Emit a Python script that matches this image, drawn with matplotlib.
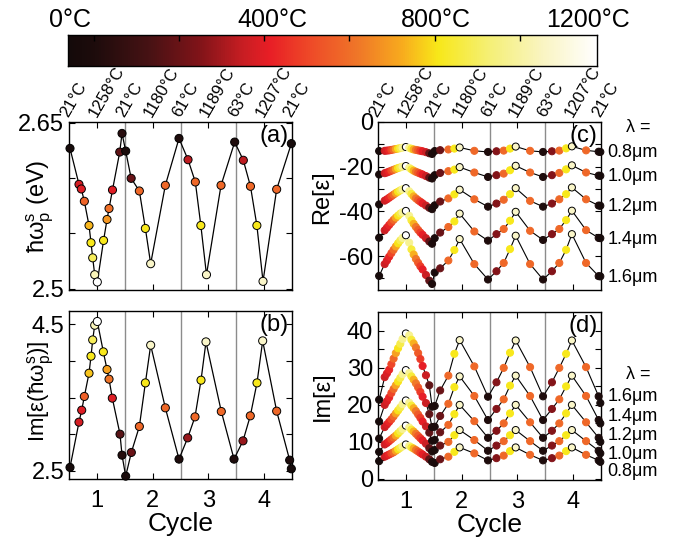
import numpy as np
import matplotlib
matplotlib.use('Agg')
import matplotlib.pyplot as plt
from matplotlib.colors import LinearSegmentedColormap, Normalize
from matplotlib.transforms import blended_transform_factory, offset_copy

plt.rcParams['font.family'] = ['Liberation Sans', 'DejaVu Sans']
plt.rcParams['mathtext.fontset'] = 'custom'
plt.rcParams['mathtext.rm'] = 'Liberation Sans'
plt.rcParams['mathtext.it'] = 'Liberation Sans'
plt.rcParams['mathtext.bf'] = 'Liberation Sans:bold'
plt.rcParams['axes.unicode_minus'] = False

# ---------------- data ----------------
top_label_x = [0.5, 1.0, 1.5, 2.0, 2.5, 3.0, 3.5, 4.0, 4.5]
top_labels = ['21°C', '1258°C', '21°C', '1180°C', '61°C', '1189°C', '63°C', '1207°C', '21°C']
cycle_ticks = [1, 2, 3, 4]
cycle_bounds = [1.5, 2.5, 3.5]

cbar_label_T = [5, 463, 834, 1180]
cbar_labels = ['0°C', '400°C', '800°C', '1200°C']
cbar_ticks = [58, 251, 444, 638, 832, 1026]

# colormap anchors (fraction, colour)
cmap_frac = [0.0, 0.05, 0.15, 0.25, 0.33, 0.38, 0.45, 0.55, 0.63, 0.70, 0.80, 0.90, 1.0]
cmap_cols = ['#140a0a', '#1e0c0c', '#461214', '#821419', '#c81e23', '#e81e26',
             '#ee4628', '#f07828', '#f8aa1e', '#f8e819', '#f5f078', '#faf5c3', '#ffffff']

# panel (a) : plasmon energy
x_a = [0.518, 0.679, 0.721, 0.775, 0.859, 0.895, 0.925, 0.961, 1.008, 1.120, 1.182, 1.218,
       1.280, 1.410, 1.451, 1.517, 1.615, 1.762, 1.870, 1.965, 2.228, 2.473, 2.635, 2.766,
       2.865, 2.966, 3.227, 3.472, 3.627, 3.755, 3.870, 3.980, 4.225, 4.488]
T_a = [21, 420, 440, 610, 770, 840, 920, 1060, 1258, 840, 720, 640, 440, 230, 90, 40,
       250, 620, 840, 1090, 620, 61, 380, 620, 840, 1090, 620, 63, 380, 620, 840, 1090, 620, 21]
E_a = [2.6267, 2.5943, 2.5901, 2.5790, 2.5572, 2.5416, 2.5280, 2.5128, 2.5062, 2.5437,
       2.5626, 2.5725, 2.5892, 2.6234, 2.6402, 2.6243, 2.5997, 2.5883, 2.5545, 2.5227,
       2.5934, 2.6357, 2.6165, 2.5964, 2.5572, 2.5128, 2.5934, 2.6324, 2.6160, 2.5925,
       2.5572, 2.5068, 2.5898, 2.6310]

# panel (b) : Im[eps] at plasmon energy
x_b = [0.518, 0.679, 0.728, 0.775, 0.859, 0.895, 0.925, 0.961, 1.008, 1.116, 1.182, 1.218,
       1.277, 1.415, 1.451, 1.517, 1.618, 1.762, 1.870, 1.965, 2.228, 2.473, 2.629, 2.760,
       2.868, 2.957, 3.232, 3.460, 3.621, 3.752, 3.872, 3.974, 4.225, 4.458, 4.488]
T_b = [21, 420, 440, 600, 790, 840, 920, 1060, 1258, 840, 740, 650, 440, 220, 80, 30,
       250, 620, 840, 1090, 620, 61, 330, 620, 840, 1090, 620, 63, 330, 620, 840, 1090, 620, 60, 21]
I_b = [2.548, 3.165, 3.328, 3.515, 3.832, 4.064, 4.286, 4.486, 4.537, 4.123, 3.883, 3.751,
       3.492, 3.001, 2.715, 2.429, 2.752, 3.106, 3.700, 4.214, 3.360, 2.661, 2.951, 3.237,
       3.737, 4.259, 3.310, 2.661, 2.910, 3.251, 3.700, 4.273, 3.315, 2.647, 2.529]

# panels (c),(d) : first cycle (dense sampling) + cycles 2-4
x_cd = [0.52, 0.62, 0.66, 0.70, 0.74, 0.78, 0.82, 0.86, 0.90, 0.94, 1.00, 1.06, 1.10, 1.14,
        1.18, 1.22, 1.26, 1.30, 1.36, 1.42, 1.47,
        1.517, 1.615, 1.762, 1.870, 1.965, 2.228, 2.473, 2.625, 2.755, 2.868, 2.970, 3.228,
        3.460, 3.620, 3.752, 3.874, 3.978, 4.232, 4.458, 4.488]
T_cd = [21, 400, 430, 470, 540, 620, 740, 830, 900, 1000, 1258, 1000, 880, 760, 660, 590,
        520, 450, 400, 230, 60,
        40, 250, 620, 840, 1090, 620, 61, 300, 620, 840, 1090, 620, 63, 300, 620, 840, 1090,
        620, 60, 21]
wavelengths = ['0.8μm', '1.0μm', '1.2μm', '1.4μm', '1.6μm']

re_08 = [-13.0, -12.9, -12.8, -12.7, -12.5, -12.3, -12.1, -11.9, -11.7, -11.5, -11.2, -11.6,
         -12.0, -12.3, -12.5, -12.7, -12.9, -13.1, -13.5, -14.0, -14.3,
         -13.0, -12.6, -12.3, -11.9, -11.4, -12.9, -13.4, -13.1, -12.8, -11.9, -11.0, -12.9,
         -13.4, -13.1, -12.8, -11.8, -10.9, -12.7, -13.3, -13.4]
re_10 = [-23.5, -22.9, -22.6, -22.2, -21.8, -21.4, -21.0, -20.6, -20.3, -20.0, -19.7, -20.5,
         -21.2, -21.8, -22.3, -22.7, -23.1, -23.5, -24.2, -24.9, -25.3,
         -23.8, -22.8, -22.0, -21.3, -20.2, -22.6, -24.6, -23.8, -23.1, -21.6, -19.6, -22.6,
         -24.6, -23.8, -22.8, -21.2, -19.4, -22.6, -24.0, -24.1]
re_12 = [-36.9, -35.2, -34.6, -33.9, -33.2, -32.5, -31.8, -31.2, -30.6, -30.1, -29.6, -31.0,
         -32.2, -33.3, -34.2, -35.0, -35.7, -36.4, -37.4, -38.4, -39.0,
         -37.3, -35.6, -34.2, -32.4, -30.3, -34.6, -37.9, -36.5, -34.8, -32.3, -29.6, -35.3,
         -37.9, -36.5, -34.6, -32.3, -29.3, -34.6, -37.4, -37.5]
re_14 = [-51.8, -48.5, -47.3, -46.1, -44.9, -43.8, -42.8, -41.9, -41.0, -40.4, -39.8, -42.0,
         -44.0, -45.6, -47.0, -48.3, -49.5, -50.5, -52.0, -53.5, -54.5,
         -52.0, -49.5, -47.0, -44.5, -41.0, -49.0, -53.1, -50.2, -47.9, -44.2, -40.2, -48.7,
         -52.8, -50.2, -47.9, -43.9, -39.7, -48.4, -51.9, -52.0]
re_16 = [-68.9, -63.6, -62.0, -60.3, -58.7, -57.2, -55.7, -54.3, -53.0, -51.9, -50.7, -54.0,
         -57.0, -59.3, -61.3, -63.0, -64.6, -66.0, -68.5, -71.0, -72.5,
         -67.4, -65.5, -62.0, -57.3, -52.4, -63.6, -70.5, -66.8, -63.1, -56.9, -50.9, -63.6,
         -70.5, -66.8, -63.1, -57.2, -50.2, -63.1, -69.0, -69.1]

im_08 = [4.8, 6.0, 6.3, 6.6, 6.9, 7.2, 7.6, 8.0, 8.4, 8.8, 9.3, 8.9, 8.5, 8.2, 7.8, 7.4,
         7.0, 6.6, 6.0, 5.3, 4.6,
         4.3, 5.3, 6.0, 7.3, 8.5, 6.9, 5.0, 5.6, 6.3, 7.5, 8.5, 6.5, 5.0, 5.6, 6.3, 7.5, 8.5,
         6.5, 5.0, 4.6]
im_10 = [7.3, 9.3, 9.7, 10.2, 10.7, 11.2, 11.7, 12.3, 12.9, 13.5, 14.4, 13.9, 13.3, 12.8,
         12.2, 11.6, 11.0, 10.4, 9.5, 8.3, 7.4,
         7.8, 9.0, 10.0, 11.8, 13.2, 10.5, 7.6, 9.0, 10.2, 11.8, 13.2, 10.2, 7.6, 9.0, 10.2,
         11.8, 13.2, 10.2, 7.6, 6.9]
im_12 = [10.9, 14.0, 14.7, 15.4, 16.1, 16.9, 17.7, 18.5, 19.3, 20.2, 21.2, 20.6, 19.8, 19.1,
         18.3, 17.4, 16.5, 15.5, 14.2, 12.5, 10.3,
         10.5, 12.6, 14.6, 17.5, 20.0, 15.6, 11.1, 13.0, 15.0, 17.7, 20.0, 15.3, 11.1, 13.0,
         15.0, 17.7, 20.0, 15.3, 11.1, 10.0]
im_14 = [15.5, 20.0, 21.0, 22.0, 23.2, 24.3, 25.3, 26.3, 27.3, 28.3, 29.4, 28.6, 27.7, 26.8,
         25.8, 24.7, 23.5, 22.2, 20.5, 17.5, 14.0,
         14.1, 17.0, 20.3, 24.8, 27.7, 22.4, 15.9, 18.9, 21.5, 25.2, 27.9, 22.4, 15.9, 18.9,
         21.5, 25.0, 27.9, 22.4, 15.9, 15.0]
im_16 = [21.4, 27.5, 28.5, 29.5, 31.0, 32.5, 34.0, 35.3, 36.5, 37.8, 39.3, 38.8, 37.6, 36.6,
         35.5, 34.0, 32.4, 30.5, 28.0, 25.3, 19.5,
         19.7, 23.9, 27.9, 33.8, 37.5, 30.4, 22.2, 26.1, 30.0, 34.1, 37.4, 30.2, 22.3, 26.1,
         30.0, 33.8, 37.4, 30.2, 22.3, 20.5]

re_curves = [re_08, re_10, re_12, re_14, re_16]
im_curves = [im_08, im_10, im_12, im_14, im_16]

# ---------------- figure ----------------
W, H = 676, 537
fig = plt.figure(figsize=(W / 100, H / 100), dpi=100)


def add_ax(l, t, r, b):
    return fig.add_axes([l / W, 1 - b / H, (r - l) / W, (b - t) / H])


cmap = LinearSegmentedColormap.from_list('heat', list(zip(cmap_frac, cmap_cols)))
norm = Normalize(0, 1200, clip=True)

ax_a = add_ax(69, 122, 292, 290)
ax_b = add_ax(69, 311, 292, 479)
ax_c = add_ax(378, 122, 601, 290)
ax_d = add_ax(378, 312, 601, 480)
ax_cb = add_ax(68, 35, 597, 66)

# colour bar
grad = np.linspace(0, 1200, 512)[None, :]
ax_cb.imshow(grad, cmap=cmap, norm=norm, aspect='auto', extent=[0, 1200, 0, 1])
ax_cb.set_xlim(0, 1200)
ax_cb.set_ylim(0, 1)
ax_cb.set_yticks([])
ax_cb.set_xticks(cbar_ticks)
ax_cb.tick_params(axis='x', top=True, bottom=False, direction='in', length=4, width=1,
                  labeltop=False, labelbottom=False)
for s in ax_cb.spines.values():
    s.set_linewidth(1.0)
for T, lab in zip(cbar_label_T, cbar_labels):
    ax_cb.text(T, 1.25, lab, ha='center', va='baseline', fontsize=18,
               transform=blended_transform_factory(ax_cb.transData, ax_cb.transAxes))

axes = [ax_a, ax_b, ax_c, ax_d]
for ax in axes:
    ax.set_xlim(0.5, 4.5)
    for xv in cycle_bounds:
        ax.axvline(xv, color='#8c8c8c', lw=1.0, zorder=1)
    ax.set_xticks(cycle_ticks)
    ax.tick_params(direction='in', top=True, right=True, length=4, width=0.8, labelsize=17)
    for s in ax.spines.values():
        s.set_linewidth(1.0)

for ax in (ax_a, ax_c):
    ax.set_xticklabels([])
    tr = offset_copy(blended_transform_factory(ax.transData, ax.transAxes), fig=fig,
                     x=2, y=3, units='dots')
    for xv, lab in zip(top_label_x, top_labels):
        ax.text(xv, 1.0, lab, transform=tr, rotation=60, ha='left', va='bottom',
                rotation_mode='anchor', fontsize=12)

for ax in (ax_b, ax_d):
    ax.set_xticklabels([str(t) for t in cycle_ticks])
    ax.tick_params(axis='x', pad=8)
    ax.set_xlabel('Cycle', fontsize=19, labelpad=0)

# panel a
ax_a.plot(x_a, E_a, color='black', lw=0.9, zorder=2)
ax_a.scatter(x_a, E_a, c=T_a, cmap=cmap, norm=norm, s=34, edgecolors='black',
             linewidths=0.7, zorder=3, clip_on=False)
ax_a.set_ylim(2.499, 2.6505)
ax_a.set_yticks([2.5, 2.55, 2.6, 2.65])
ax_a.set_yticklabels(['2.5', '', '', '2.65'])
ax_a.set_ylabel(r'$\mathrm{\hbar\omega_p^s}$ (eV)', fontsize=17)
ax_a.yaxis.set_label_coords(-0.06, 0.5)

# panel b
ax_b.plot(x_b, I_b, color='black', lw=0.9, zorder=2)
ax_b.scatter(x_b, I_b, c=T_b, cmap=cmap, norm=norm, s=34, edgecolors='black',
             linewidths=0.7, zorder=3, clip_on=False)
ax_b.set_ylim(2.39, 4.68)
ax_b.set_yticks([2.5, 3.0, 3.5, 4.0, 4.5])
ax_b.set_yticklabels(['2.5', '', '', '', '4.5'])
ax_b.set_ylabel(r'Im[$\mathrm{\varepsilon(\hbar\omega_p^s)}$]', fontsize=16)
ax_b.yaxis.set_label_coords(-0.06, 0.52)

# panels c, d
edge_cd = [('black' if T > 1000 else cmap(norm(T))) for T in T_cd]
for ax, curves in ((ax_c, re_curves), (ax_d, im_curves)):
    for ys in curves:
        ax.plot(x_cd, ys, color='black', lw=0.8, zorder=2)
        ax.scatter(x_cd, ys, c=T_cd, cmap=cmap, norm=norm, s=26, edgecolors=edge_cd,
                   linewidths=0.7, zorder=3, clip_on=False)

ax_c.set_ylim(-75.2, 0)
ax_c.set_yticks(list(range(-70, 1, 10)))
ax_c.set_yticklabels([('%d' % v if v % 20 == 0 else '') for v in range(-70, 1, 10)])
ax_c.set_ylabel('Re[ε]', fontsize=17)
ax_c.yaxis.set_label_coords(-0.2, 0.55)

ax_d.set_ylim(-0.3, 45.1)
ax_d.set_yticks(list(range(0, 45, 5)))
ax_d.set_yticklabels([('%d' % v if v % 10 == 0 else '') for v in range(0, 45, 5)])
ax_d.set_ylabel('Im[ε]', fontsize=17)
ax_d.yaxis.set_label_coords(-0.2, 0.5)

# wavelength labels
trc = blended_transform_factory(ax_c.transAxes, ax_c.transData)
ax_c.text(1.165, -2.5, 'λ =', transform=trc, ha='center', va='center', fontsize=13)
for ys, lab in zip(re_curves, wavelengths):
    ax_c.text(1.03, ys[-1] - 0.4, lab, transform=trc, ha='left', va='center', fontsize=13)

trd = blended_transform_factory(ax_d.transAxes, ax_d.transData)
ax_d.text(1.165, 28.2, 'λ =', transform=trd, ha='center', va='center', fontsize=13)
d_label_y = [1.9, 6.7, 11.6, 16.8, 22.3]
for yv, lab in zip(d_label_y, wavelengths):
    ax_d.text(1.03, yv, lab, transform=trd, ha='left', va='center', fontsize=13)

for ax, lab in zip(axes, ['(a)', '(b)', '(c)', '(d)']):
    ax.text(0.985, 0.985, lab, transform=ax.transAxes, ha='right', va='top', fontsize=17)

fig.savefig('out.png', dpi=100)
